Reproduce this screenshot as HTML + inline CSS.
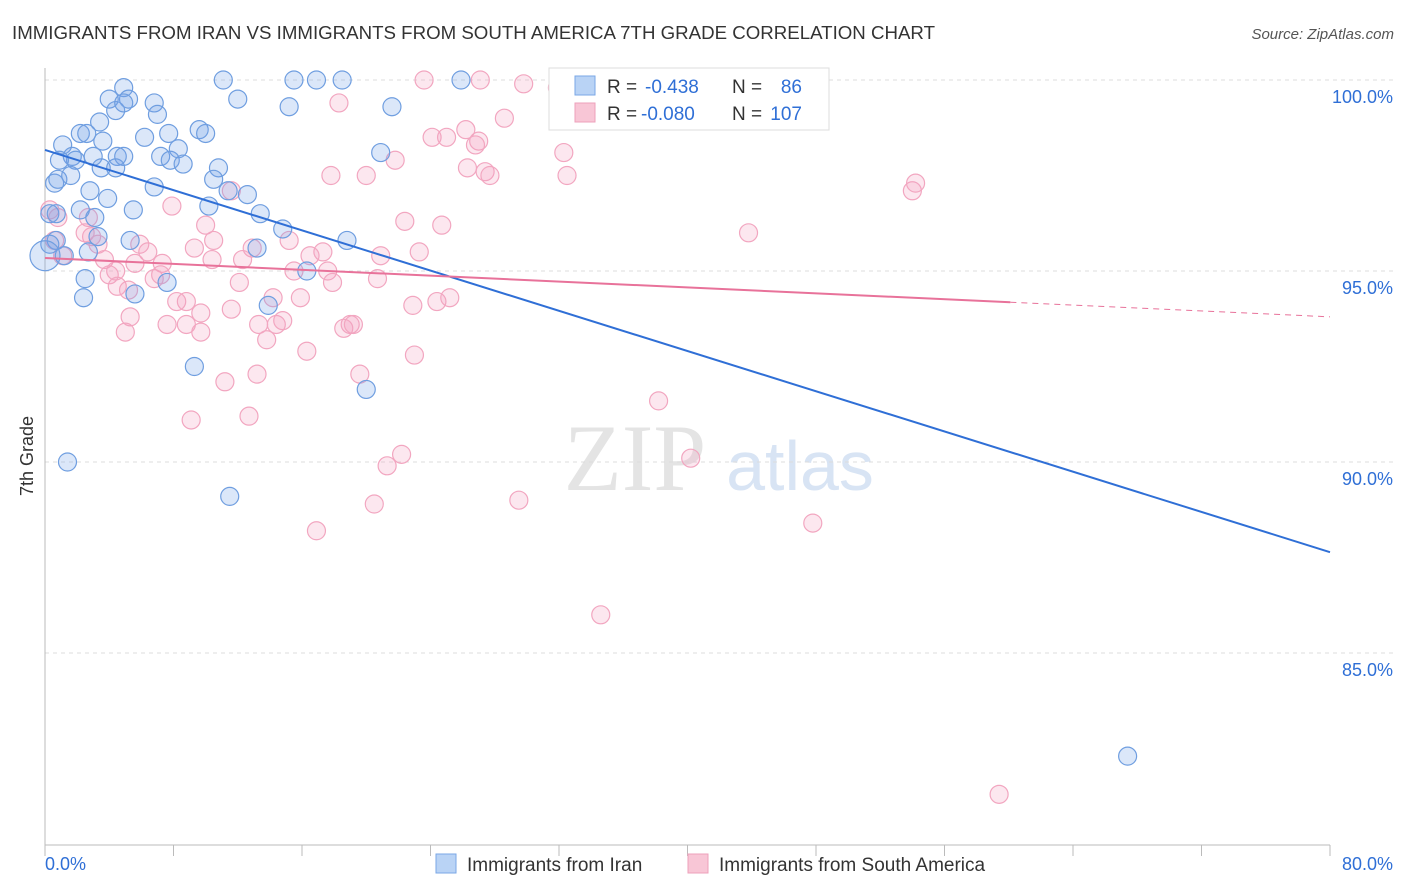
<!DOCTYPE html>
<html><head><meta charset="utf-8"><style>
body{margin:0;background:#fff;font-family:"Liberation Sans",sans-serif;}
svg{display:block}
</style></head><body>
<svg id="chart" width="1406" height="892">
<text x="12" y="39" font-size="18" fill="#333" textLength="923" lengthAdjust="spacingAndGlyphs">IMMIGRANTS FROM IRAN VS IMMIGRANTS FROM SOUTH AMERICA 7TH GRADE CORRELATION CHART</text>
<text x="1394" y="39" font-size="15" fill="#555" text-anchor="end" font-style="italic">Source: ZipAtlas.com</text>
<text x="33" y="456" font-size="18" fill="#333" text-anchor="middle" transform="rotate(-90 33 456)">7th Grade</text>
<g><text x="635" y="490" font-size="95" fill="#e4e4e4" text-anchor="middle" font-family="Liberation Serif,serif">ZIP</text><text x="800" y="490" font-size="70" fill="#d8e4f4" text-anchor="middle">atlas</text></g>
<g id="grid"></g><g id="axes"></g><g id="pts"></g><g id="trend"></g>
<g>
<rect x="549" y="68" width="280" height="62" fill="#fff" stroke="#ddd"/>
<rect x="575" y="76" width="20" height="19" fill="#b9d3f5" stroke="#7aa7e6"/>
<text x="607" y="93" font-size="19" fill="#333">R =</text>
<text x="645" y="93" font-size="19" fill="#2f6fd6">-0.438</text>
<text x="732" y="93" font-size="19" fill="#333">N =</text>
<text x="802" y="93" font-size="19" fill="#2f6fd6" text-anchor="end">86</text>
<rect x="575" y="103" width="20" height="19" fill="#f8c6d6" stroke="#eea0bb"/>
<text x="607" y="120" font-size="19" fill="#333">R =</text>
<text x="641" y="120" font-size="19" fill="#2f6fd6">-0.080</text>
<text x="732" y="120" font-size="19" fill="#333">N =</text>
<text x="802" y="120" font-size="19" fill="#2f6fd6" text-anchor="end">107</text>
</g>
<g>
<rect x="436" y="854" width="20" height="19" fill="#b9d3f5" stroke="#7aa7e6"/>
<text x="467" y="871" font-size="19" fill="#333">Immigrants from Iran</text>
<rect x="688" y="854" width="20" height="19" fill="#f8c6d6" stroke="#eea0bb"/>
<text x="719" y="871" font-size="19" fill="#333">Immigrants from South America</text>
</g>
</svg>
<script>
const yTicks=[100,95,90,85];
const yTickLabels=["100.0%","95.0%","90.0%","85.0%"];
const xTickLabels=["0.0%","80.0%"];
const iranX=[4.9,11.1,15.5,16.9,18.5,25.9,4.0,5.2,6.8,12.0,15.2,21.6,4.4,7.0,4.9,3.4,2.2,2.6,1.1,3.6,6.2,7.7,9.6,10.0,1.7,1.9,3.0,4.5,4.9,7.2,8.3,7.8,8.6,10.8,0.9,3.5,4.4,20.9,0.6,0.8,1.6,2.8,6.8,10.5,11.4,12.6,3.9,5.5,2.2,3.1,10.2,13.4,0.3,0.7,0.7,2.7,5.3,3.3,13.2,14.8,18.8,16.3,2.5,7.6,2.4,5.6,13.9,9.3,20.0,1.4,11.5,67.4,0.3,1.2,0.0];
const iranY=[99.8,100,100,100,100,100,99.5,99.5,99.4,99.5,99.3,99.3,99.2,99.1,99.4,98.9,98.6,98.6,98.3,98.4,98.5,98.6,98.7,98.6,98.0,97.9,98.0,98.0,98.0,98.0,98.2,97.9,97.8,97.7,97.9,97.7,97.7,98.1,97.3,97.4,97.5,97.1,97.2,97.4,97.1,97.0,96.9,96.6,96.6,96.4,96.7,96.5,96.5,96.5,95.8,95.5,95.8,95.9,95.6,96.1,95.8,95.0,94.8,94.7,94.3,94.4,94.1,92.5,91.9,90.0,89.1,82.3,95.7,95.4,95.4];
const saX=[23.6,27.1,29.8,31.9,35.3,36.7,18.3,28.6,24.1,25.0,26.2,27.0,26.8,32.3,21.8,17.8,20.0,26.3,27.4,27.7,32.5,11.6,54.0,54.2,7.9,10.0,22.4,24.7,43.8,0.3,0.8,2.7,2.9,0.6,3.3,5.9,6.4,9.3,10.5,12.9,15.2,17.3,20.9,23.3,3.7,5.6,7.3,10.4,12.3,16.5,1.1,4.4,4.0,6.8,7.2,12.1,15.5,17.6,17.9,20.7,4.5,8.2,8.8,14.2,15.9,11.6,22.9,24.4,25.2,5.3,9.7,7.6,8.8,13.3,14.4,14.8,19.0,18.6,19.2,5.0,9.7,13.8,16.3,23.0,19.6,13.2,11.2,38.2,9.1,12.7,22.2,21.3,40.2,29.5,20.5,16.9,47.8,34.6,59.4,2.5,5.2];
const saY=[100,100,99.9,99.8,99.9,99.6,99.4,99.0,98.5,98.5,98.7,98.4,98.3,98.1,97.9,97.5,97.5,97.7,97.6,97.5,97.5,97.1,97.1,97.3,96.7,96.2,96.3,96.2,96.0,96.6,96.4,96.4,95.9,95.8,95.7,95.7,95.5,95.6,95.8,95.6,95.8,95.5,95.4,95.5,95.3,95.2,95.2,95.3,95.3,95.4,95.4,95.0,94.9,94.8,94.9,94.7,95.0,95.0,94.7,94.8,94.6,94.2,94.2,94.3,94.3,94.0,94.1,94.2,94.3,93.8,93.9,93.6,93.6,93.6,93.6,93.7,93.6,93.5,93.6,93.4,93.4,93.2,92.9,92.8,92.3,92.3,92.1,91.6,91.1,91.2,90.2,89.9,90.1,89.0,88.9,88.2,88.4,86.0,81.3,96.0,94.5];
const iranTrend=[98.17,87.64];
const saTrend=[95.34,93.8];
const saSolidEnd=60.1;

const NS="http://www.w3.org/2000/svg";
const X=v=>45+v/80*1285;
const Y=v=>80+(100-v)*38.2;
function mk(tag,attrs,parent){const e=document.createElementNS(NS,tag);for(const k in attrs)e.setAttribute(k,attrs[k]);document.getElementById(parent).appendChild(e);return e;}
yTicks.forEach((t,i)=>{
  const l=mk('line',{x1:45,x2:1395,y1:Y(t),y2:Y(t),stroke:'#dcdcdc','stroke-dasharray':'4,4'},'grid');
  
  
  const tx=mk('text',{x:1393,y:Y(t)+23,'font-size':18,fill:'#2f6fd6','text-anchor':'end'},'axes');
  tx.textContent=yTickLabels[i];
  
  
});
const ax=mk('line',{x1:45,x2:1330,y1:845,y2:845,stroke:'#bbb'},'axes');


const ay=mk('line',{x1:45,x2:45,y1:68,y2:845,stroke:'#bbb'},'axes');


for(let i=0;i<=10;i++){
  const t=mk('line',{x1:X(i*8),x2:X(i*8),y1:845,y2:856,stroke:'#bbb'},'axes');
  
  
}
[[0,'start',45],[80,'end',1393]].forEach((d,i)=>{
  const t=mk('text',{x:d[2],y:870,'font-size':18,fill:'#2f6fd6','text-anchor':d[1]},'axes');
  t.textContent=xTickLabels[i];
  
  
});
saX.forEach((x,i)=>{
  const c=mk('circle',{cx:X(x),cy:Y(saY[i]),r:9,fill:'rgba(244,160,190,0.25)',stroke:'#f2a6c0','stroke-width':1.2},'pts');
  
  
});
iranX.forEach((x,i)=>{
  const c=mk('circle',{cx:X(x),cy:Y(iranY[i]),r:i==iranX.length-1?15:9,fill:'rgba(110,160,230,0.25)',stroke:'#6f9ee0','stroke-width':1.2},'pts');
  
  
});
const bl=mk('line',{x1:X(0),y1:Y(iranTrend[0]),x2:X(80),y2:Y(iranTrend[1]),stroke:'#2f6fd6','stroke-width':2},'trend');


const sAt=v=>saTrend[0]+(saTrend[1]-saTrend[0])*v/80;
const pl=mk('line',{x1:X(0),y1:Y(sAt(0)),x2:X(saSolidEnd),y2:Y(sAt(saSolidEnd)),stroke:'#e8729a','stroke-width':2},'trend');


const pd=mk('line',{x1:X(saSolidEnd),y1:Y(sAt(saSolidEnd)),x2:X(80),y2:Y(sAt(80)),stroke:'#e8729a','stroke-width':1,'stroke-dasharray':'6,5'},'trend');


</script>
</body></html>
